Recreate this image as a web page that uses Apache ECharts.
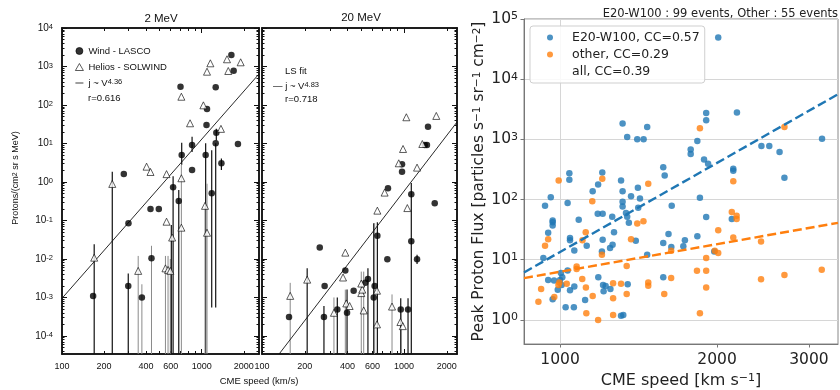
<!DOCTYPE html>
<html><head><meta charset="utf-8">
<script src="https://cdn.jsdelivr.net/npm/echarts@6/dist/echarts.min.js"></script>
<style>html,body{margin:0;padding:0;background:#fff}#c{width:840px;height:390px}</style>
</head><body><div id="c"></div>
<script>
// ---------- tick labels ----------
const speedTickLabels12 = [100, 200, 400, 600, 1000, 2000];
const speedMajorTicks12 = [100, 1000];
const speedMinorTicks12 = [200, 300, 400, 500, 600, 700, 800, 900, 2000];
const fluxDecades12 = [1e-4, 1e-3, 1e-2, 1e-1, 1, 10, 100, 1000, 10000];
const speedTickLabels3 = [1000, 2000, 3000];
const fluxDecades3 = [1, 10, 100, 1000, 10000, 100000];

// ---------- panel 1 : 2 MeV ----------
const wind2MeV = [[1630,1990],[1693,777],[705,299],[1259,288],[1091,79],[1082,30],[1272,19.1],[1259,10.1],[1817,9.7],[853,9.1],[719,5.0],[1067,5.0],[853,2.05],[1383,3.06],[277,1.6],[624,0.73],[1179,0.51],[299,0.085],[430,0.2],[493,0.2],[685,0.32],[437,0.0104],[167,0.0011],[298,0.002],[373,0.001]];
const helios2MeV = [[1153,1210],[1091,733],[1517,1540],[1549,764],[1900,1285],[715,164],[1028,98],[825,33.5],[1373,24],[403,2.5],[430,1.82],[560,1.6],[715,1.25],[229,0.89],[170,0.0108],[560,0.093],[715,0.065],[614,0.036],[1056,0.24],[1091,0.048],[351,0.0049],[550,0.0057],[574,0.0052],[596,0.0049]];
// error bars: [speed, low, high, dark(1)/grey(0)]
const floor12 = 3.4e-5;
const err2MeV = [[229,floor12,1.85,1],[170,floor12,0.024,1],[298,floor12,0.0042,1],[351,floor12,0.012,0],[373,floor12,0.0022,0],[437,floor12,0.022,0],[550,floor12,0.012,0],[574,floor12,0.012,0],[596,floor12,0.01,0],[606,floor12,0.076,1],[624,floor12,1.4,1],[685,floor12,0.62,1],[715,floor12,2.76,0],[719,2.8,10.5,1],[853,6,15,1],[1067,floor12,10.1,1],[1056,floor12,0.24,0],[1091,floor12,0.9,0],[1179,5.5e-4,6.7,1],[1259,5.5e-4,10.1,1],[1272,12,24,1],[1383,2.05,4.1,1]];
const fit2MeV = [[100,9.5e-4],[2570,640]];

// ---------- panel 2 : 20 MeV ----------
const wind20MeV = [[1475,27.3],[1400,9.1],[1450,9.1],[968,2.88],[968,1.85],[771,0.69],[1125,0.48],[1645,0.28],[649,0.040],[1125,0.029],[763,0.0098],[1235,0.0098],[255,0.020],[386,0.005],[276,0.002],[155,3.1e-4],[273,3.1e-4],[339,4.9e-4],[397,4.0e-4],[442,1.5e-3],[557,0.0030],[534,0.0024],[621,0.002],[612,1e-3],[948,4.9e-4],[1067,4.9e-4]];
const helios20MeV = [[1038,48],[1687,52],[984,7.2],[1345,9.7],[918,3.06],[1235,2.36],[730,0.53],[649,0.18],[1055,0.21],[386,0.0146],[372,0.0033],[208,0.0029],[158,0.0011],[321,4.0e-4],[392,7.0e-4],[414,6.0e-4],[500,1.3e-3],[508,1.6e-3],[500,2.3e-3],[645,1.5e-3],[520,4.6e-4],[645,2.0e-4],[823,5.8e-4],[943,2.3e-4],[980,1.8e-4]];
const err20MeV = [[158,floor12,0.0024,0],[208,floor12,0.0057,1],[273,floor12,6e-4,1],[321,floor12,1e-3,0],[339,floor12,1e-3,1],[386,floor12,0.0016,0],[397,floor12,1.6e-3,1],[500,floor12,0.0047,0],[520,floor12,0.0047,0],[557,floor12,0.0057,1],[612,floor12,0.085,1],[621,floor12,0.085,0],[649,floor12,0.09,1],[823,floor12,1.2e-3,0],[948,floor12,9.5e-4,1],[1067,floor12,9.5e-4,1],[1125,floor12,0.94,1],[960,floor12,4e-4,0],[1235,0.0074,0.0128,1]];
const fit20MeV = [[132,3.4e-5],[2360,36]];

// ---------- panel 3 ----------
const e20Events = [[2010,49500],[1318,1827],[1345,1096],[1406,1000],[1446,1000],[1469,1603],[1906,2744],[1906,2074],[2183,2786],[3178,1028],[2432,773],[2518,773],[2635,615],[2692,230],[2148,324],[2148,300],[1780,681],[1780,569],[1833,937],[1888,464],[1922,393],[1577,345],[1587,251],[1854,107],[1042,274],[1042,213],[1205,282],[1309,207],[1318,137],[1155,137],[1183,178],[1410,157],[1368,114],[960,109],[1423,104],
[936,79],[968,45],[968,42],[968,37],[949,28],[929,10.7],[1034,88],[1086,46],[1045,23],[1045,21],[1065,14.3],[1034,6.6],[1004,6.0],[949,4.6],[974,4.5],[1000,4.6],[1010,5.1],[1007,3.8],[990,3.16],[968,2.2],[1045,3.1],[1065,3.6],[1025,1.63],[1063,1.63],[1117,2.15],[1125,17],[1181,58],[1207,58],[1259,52],[1318,92],[1318,77],[1338,60],[1345,52],[1355,41],[1412,73],[1269,28.5],[1207,21.5],[1203,13.7],[1261,17.8],[1247,15.7],[1397,20.7],[1469,12.1],[1184,5.1],[1209,3.8],[1212,3.0],[1249,3.25],[1223,3.65],[1348,3.9],[1309,1.17],[1322,1.21],[1577,19],[1614,26.8],[1634,16.3],[1637,79],[1577,5.1],[1735,21],[1723,16.7],[1833,24.5],[1906,51.5],[1975,13.7],[2134,47.6]];
const otherEvents = [[1854,1525],[2692,1603],[2148,202],[994,207],[1205,221],[1476,183],[1153,94],[936,17.1],[949,22],[909,2.0],[920,3.25],[975,2.4],[993,3.8],[997,4.2],[1030,4.0],[1076,7.7],[1076,7.0],[1103,4.8],[1121,3.45],[1120,28.5],[1104,21],[1155,2.5],[1123,1.29],[1183,1.0],[1203,12.1],[1264,4.08],[1264,2.3],[1264,1.21],[1309,4.0],[1342,7.9],[1342,2.7],[1368,22],[1406,40],[1445,43.5],[1476,4.2],[1476,3.7],[1584,2.7],[1633,4.95],[1633,14.1],[1830,6.55],[1854,1.29],[1906,6.55],[1906,10.7],[1906,3.45],[1980,14.1],[2010,12.9],[2010,30.8],[2134,62],[2180,54],[2180,47.6],[2148,23.5],[2428,20],[2428,4.75],[2692,5.6],[3174,6.8]];
const fitE20 = [[853,6.15],[3410,5620]];
const fitOther = [[853,4.95],[3410,41]];

const NAME_E20 = 'E20-W100, CC=0.57', NAME_OTHER = 'other, CC=0.29', NAME_ALL = 'all, CC=0.39';
const NAME_WIND = 'Wind - LASCO', NAME_HELIOS = 'Helios - SOLWIND', NAME_FIT2 = 'fit2';

// ---------- styles ----------
const INK = '#111';
const SANS = 'Liberation Sans';
const MPL = 'DejaVu Sans';
const BLUE = '#1f77b4', ORANGE = '#ff7f0e';
const Y12 = [floor12, 1e4];
const X1 = [100, 2570], X2 = [100, 2360], X3 = [853, 3410], Y3 = [0.398, 1e5];

const fluxMinor12 = [];
[1e-5,1e-4,1e-3,1e-2,1e-1,1,10,100,1000].forEach(d => { for (let m = 2; m <= 9; m++) { const v = m * d; if (v > Y12[0] && v < Y12[1]) fluxMinor12.push(v); } });

function frameAxis(grid, pos, ext, ticks, len, label) {
  return {
    type: 'log', logBase: 10, gridIndex: grid, position: pos, min: ext[0], max: ext[1],
    axisLine: {show: true, onZero: false, lineStyle: {color: INK, width: 1.5}},
    axisTick: {show: true, inside: true, length: len, customValues: ticks, lineStyle: {color: INK, width: 1}},
    axisLabel: label || {show: false},
    splitLine: {show: false}, minorTick: {show: false}, minorSplitLine: {show: false}
  };
}
const speedLabel12 = {show: true, customValues: speedTickLabels12, margin: 8, fontSize: 9, fontFamily: SANS, color: INK, formatter: v => String(Math.round(v))};
const fluxLabel12 = {show: true, customValues: fluxDecades12, margin: 9, color: INK,
  formatter: v => '{b|10}{s|' + Math.round(Math.log10(v)) + '}',
  rich: {b: {fontSize: 10, fontFamily: SANS, color: INK}, s: {fontSize: 7.5, fontFamily: SANS, color: INK, verticalAlign: 'top'}}};

const xAxes = [
  frameAxis(0, 'bottom', X1, speedMajorTicks12, 5, speedLabel12),
  frameAxis(0, 'bottom', X1, speedMinorTicks12, 3),
  frameAxis(0, 'top', X1, speedMajorTicks12, 5),
  frameAxis(0, 'top', X1, speedMinorTicks12, 3),
  frameAxis(1, 'bottom', X2, speedMajorTicks12, 5, speedLabel12),
  frameAxis(1, 'bottom', X2, speedMinorTicks12, 3),
  frameAxis(1, 'top', X2, speedMajorTicks12, 5),
  frameAxis(1, 'top', X2, speedMinorTicks12, 3),
  {
    type: 'log', logBase: 10, gridIndex: 2, position: 'bottom', min: X3[0], max: X3[1],
    name: 'CME speed [km s{s|−1}]', nameLocation: 'middle', nameGap: 22,
    nameTextStyle: {fontSize: 16, fontFamily: MPL, color: '#222', rich: {s: {fontSize: 11, fontFamily: MPL, color: '#222', verticalAlign: 'top'}}},
    axisLine: {show: true, onZero: false, lineStyle: {color: '#777', width: 1}},
    axisTick: {show: true, inside: false, length: 3.5, customValues: speedTickLabels3, lineStyle: {color: '#777'}},
    axisLabel: {show: true, customValues: speedTickLabels3, margin: 8, fontSize: 15.5, fontFamily: MPL, color: '#222', formatter: v => String(Math.round(v))},
    splitLine: {show: false}
  },
  {
    type: 'log', logBase: 10, gridIndex: 2, position: 'bottom', min: X3[0], max: X3[1],
    axisLine: {show: false}, axisTick: {show: false, customValues: [1000]}, axisLabel: {show: false},
    splitLine: {show: true, lineStyle: {color: '#d6d6d6', width: 1}}
  }
];
const yAxes = [
  frameAxis(0, 'left', Y12, fluxDecades12, 5, fluxLabel12),
  frameAxis(0, 'left', Y12, fluxMinor12, 2.5),
  frameAxis(0, 'right', Y12, fluxDecades12, 5),
  frameAxis(0, 'right', Y12, fluxMinor12, 2.5),
  frameAxis(1, 'left', Y12, fluxDecades12, 5),
  frameAxis(1, 'left', Y12, fluxMinor12, 2.5),
  frameAxis(1, 'right', Y12, fluxDecades12, 5),
  frameAxis(1, 'right', Y12, fluxMinor12, 2.5),
  {
    type: 'log', logBase: 10, gridIndex: 2, position: 'left', min: Y3[0], max: Y3[1],
    name: 'Peak Proton Flux [particles s{s|−1} sr{s|−1} cm{s|−2}]', nameLocation: 'middle', nameGap: 34,
    nameTextStyle: {fontSize: 15.5, fontFamily: MPL, color: '#222', rich: {s: {fontSize: 10.5, fontFamily: MPL, color: '#222', verticalAlign: 'top'}}},
    axisLine: {show: true, onZero: false, lineStyle: {color: '#777', width: 1}},
    axisTick: {show: true, inside: false, length: 3.5, customValues: fluxDecades3, lineStyle: {color: '#777'}},
    axisLabel: {show: true, customValues: fluxDecades3, margin: 6, color: '#222',
      formatter: v => '{b|10}{s|' + Math.round(Math.log10(v)) + '}',
      rich: {b: {fontSize: 15.5, fontFamily: MPL, color: '#222'}, s: {fontSize: 11, fontFamily: MPL, color: '#222', verticalAlign: 'top'}}},
    splitLine: {show: true, lineStyle: {color: '#d6d6d6', width: 1}}
  }
];

function errSeries(data, xi, yi) {
  return {
    type: 'custom', xAxisIndex: xi, yAxisIndex: yi, data: data, encode: {x: 0, y: [1, 2]}, z: 1, silent: true,
    renderItem: (params, api) => {
      const a = api.coord([api.value(0), api.value(1)]);
      const b = api.coord([api.value(0), api.value(2)]);
      return {type: 'line', shape: {x1: a[0], y1: a[1], x2: b[0], y2: b[1]},
        style: {stroke: api.value(3) ? '#111' : '#8a8a8a', lineWidth: api.value(3) ? 1.2 : 1}};
    }
  };
}
function circles(name, data, xi, yi) {
  return {type: 'scatter', name, data, xAxisIndex: xi, yAxisIndex: yi, symbol: 'circle', symbolSize: 6.5, z: 3,
    itemStyle: {color: '#000', borderColor: '#000', borderWidth: 0}};
}
function triangles(name, data, xi, yi) {
  return {type: 'scatter', name, data, xAxisIndex: xi, yAxisIndex: yi, symbol: 'triangle', symbolSize: 7, z: 3,
    itemStyle: {color: '#fff', borderColor: '#000', borderWidth: 0.8}};
}
function fitLine(name, data, xi, yi, color, width, type, z) {
  return {type: 'line', name, data, xAxisIndex: xi, yAxisIndex: yi, symbol: 'none', z: z || 2, silent: true,
    itemStyle: {color}, lineStyle: {color, width, type}};
}

const series = [
  errSeries(err2MeV, 0, 0),
  fitLine(NAME_FIT2, fit2MeV, 0, 0, INK, 0.9, 'solid'),
  circles(NAME_WIND, wind2MeV, 0, 0),
  triangles(NAME_HELIOS, helios2MeV, 0, 0),
  errSeries(err20MeV, 4, 4),
  fitLine('fit20', fit20MeV, 4, 4, INK, 0.9, 'solid'),
  circles('wind20', wind20MeV, 4, 4),
  triangles('helios20', helios20MeV, 4, 4),
  {type: 'scatter', name: NAME_E20, data: e20Events, xAxisIndex: 8, yAxisIndex: 8, symbol: 'circle', symbolSize: 6.5, z: 3, itemStyle: {color: BLUE}},
  {type: 'scatter', name: NAME_OTHER, data: otherEvents, xAxisIndex: 8, yAxisIndex: 8, symbol: 'circle', symbolSize: 6.5, z: 3, itemStyle: {color: ORANGE}},
  {type: 'scatter', name: NAME_ALL, data: [], xAxisIndex: 8, yAxisIndex: 8, itemStyle: {color: 'rgba(0,0,0,0)'}},
  fitLine('fitE20', fitE20, 8, 8, BLUE, 2.4, [9, 4], 4),
  fitLine('fitOther', fitOther, 8, 8, ORANGE, 2.4, [9, 4], 4)
];

const option = {
  animation: false,
  backgroundColor: '#fff',
  grid: [
    {left: 62, top: 28, width: 197, height: 326, outerBoundsMode: 'none', containLabel: false},
    {left: 262, top: 28, width: 195, height: 326, outerBoundsMode: 'none', containLabel: false},
    {left: 524, top: 19, width: 314, height: 325, show: true, borderColor: '#888', borderWidth: 1, backgroundColor: 'transparent', outerBoundsMode: 'none', containLabel: false}
  ],
  xAxis: xAxes,
  yAxis: yAxes,
  legend: [
    {
      data: [NAME_WIND, NAME_HELIOS, {name: NAME_FIT2, icon: 'path://M0,0H20V2H0Z'}], orient: 'vertical', left: 75, top: 46, padding: 0,
      itemWidth: 8, itemHeight: 7, itemGap: 6, selectedMode: false, symbolKeepAspect: true,
      itemStyle: {borderWidth: 0.8},
      formatter: n => n === NAME_FIT2 ? 'j ~ V{s|4.36}' : n,
      textStyle: {fontSize: 9.5, fontFamily: SANS, color: INK, rich: {s: {fontSize: 7.5, fontFamily: SANS, color: INK, verticalAlign: 'top'}}}
    },
    {
      data: [NAME_E20, NAME_OTHER, {name: NAME_ALL, icon: 'none'}], orient: 'vertical', left: 530, top: 26,
      padding: [5, 5, 5, 3], itemWidth: 34, itemHeight: 6, itemGap: 4, selectedMode: false,
      borderColor: '#cfcfcf', borderWidth: 1, borderRadius: 3, backgroundColor: 'rgba(255,255,255,0.85)',
      textStyle: {fontSize: 12.5, fontFamily: MPL, color: '#222'}
    }
  ],
  graphic: [
    {type: 'text', x: 161, y: 19, silent: true, style: {text: '2 MeV', align: 'center', verticalAlign: 'middle', fontSize: 11.5, fontFamily: SANS, fill: INK}},
    {type: 'text', x: 361, y: 18, silent: true, style: {text: '20 MeV', align: 'center', verticalAlign: 'middle', fontSize: 11.5, fontFamily: SANS, fill: INK}},
    {type: 'text', x: 838, y: 14, silent: true, style: {text: 'E20-W100 : 99 events, Other : 55 events', align: 'right', verticalAlign: 'middle', fontSize: 11.5, fontFamily: MPL, fill: '#222'}},
    {type: 'text', x: 88, y: 98, silent: true, style: {text: 'r=0.616', align: 'left', verticalAlign: 'middle', fontSize: 9.5, fontFamily: SANS, fill: INK}},
    {type: 'text', x: 285, y: 71, silent: true, style: {text: 'LS fit', align: 'left', verticalAlign: 'middle', fontSize: 9.5, fontFamily: SANS, fill: INK}},
    {type: 'text', x: 273, y: 86, silent: true, style: {text: '— j ~ V{s|4.83}', align: 'left', verticalAlign: 'middle', fontSize: 9.5, fontFamily: SANS, fill: INK,
      rich: {s: {fontSize: 7.5, fontFamily: SANS, fill: INK, verticalAlign: 'top'}}}},
    {type: 'text', x: 285, y: 99, silent: true, style: {text: 'r=0.718', align: 'left', verticalAlign: 'middle', fontSize: 9.5, fontFamily: SANS, fill: INK}},
    {type: 'text', x: 16, y: 178, rotation: Math.PI / 2, silent: true, style: {text: 'Protons/(cm{s|2} sr s MeV)', align: 'center', verticalAlign: 'middle', fontSize: 9, fontFamily: SANS, fill: INK,
      rich: {s: {fontSize: 7, fontFamily: SANS, fill: INK, verticalAlign: 'top'}}}},
    {type: 'text', x: 259, y: 381, silent: true, style: {text: 'CME speed (km/s)', align: 'center', verticalAlign: 'middle', fontSize: 9.5, fontFamily: SANS, fill: INK}}
  ],
  series
};
const chart = echarts.init(document.getElementById('c'), null, {renderer: 'canvas', width: 840, height: 390});
chart.setOption(option);
</script></body></html>
